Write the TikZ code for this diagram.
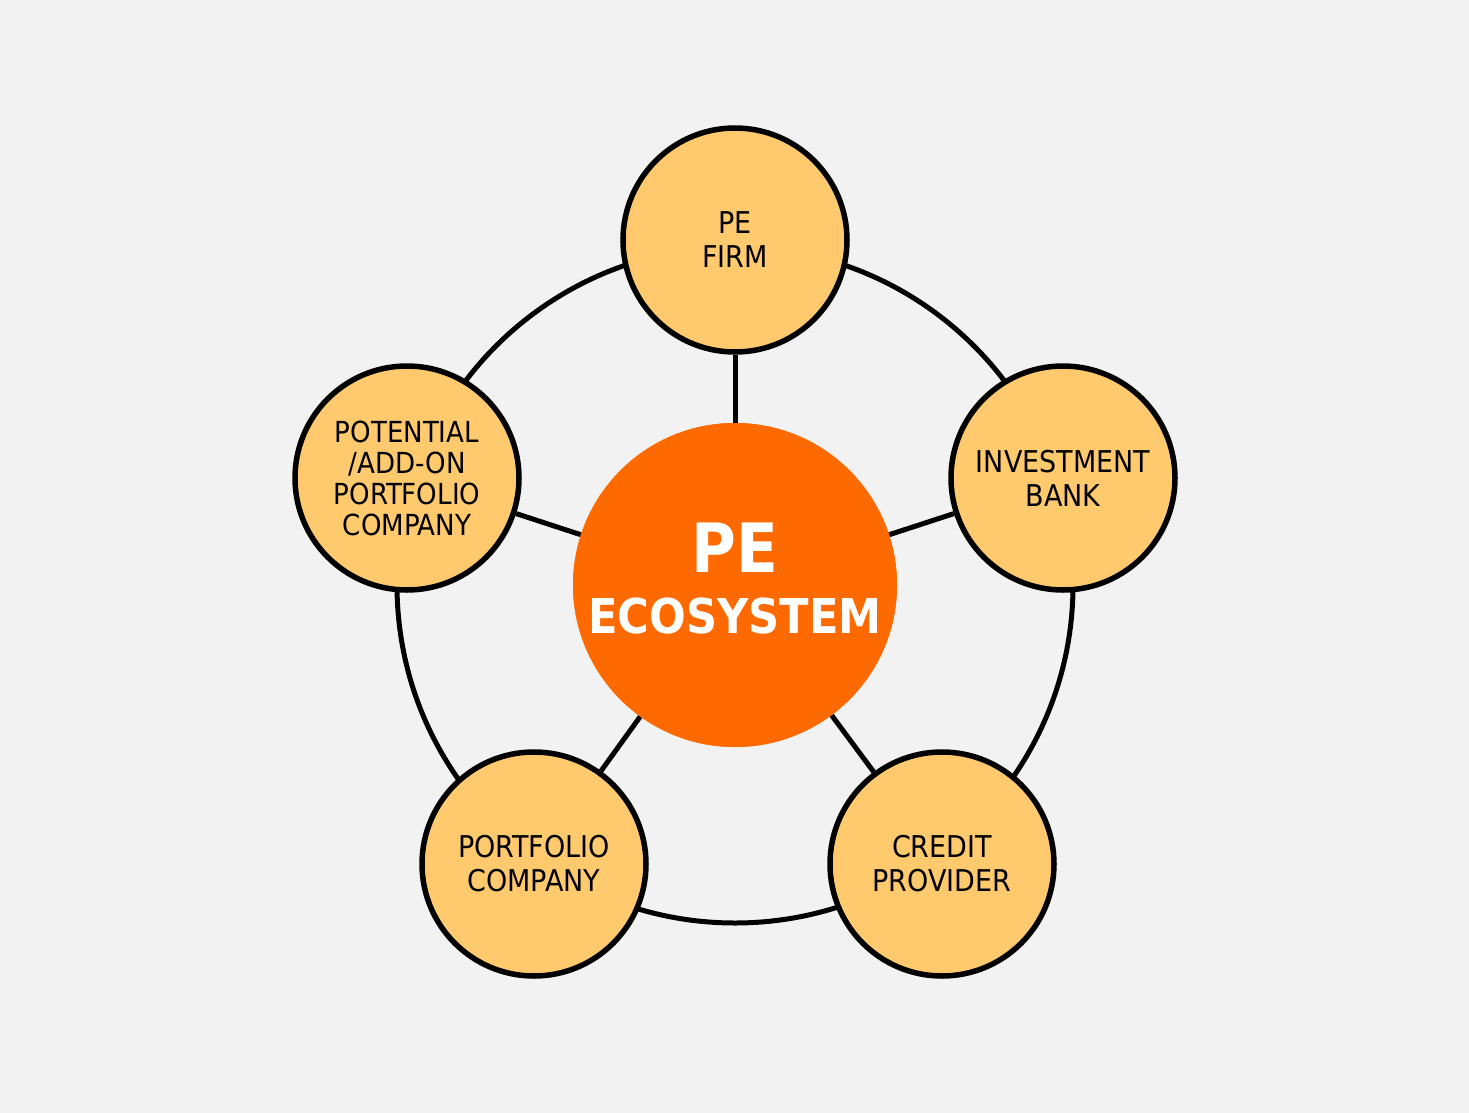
\documentclass[tikz,border=0pt]{standalone}
\usepackage{fontspec}
\setmainfont{DejaVu Sans Condensed}
\definecolor{bg}{HTML}{F2F2F2}
\definecolor{outerf}{HTML}{FFCA6E}
\definecolor{cen}{HTML}{FF6A00}
\begin{document}
\begin{tikzpicture}[x=1pt,y=-1pt,
  sat/.style={circle,draw=black,line width=5.5pt,fill=outerf,minimum size=224pt,inner sep=0pt,align=center,font=\fontsize{30}{34}\selectfont},
  link/.style={line width=5pt}]
\fill[bg] (0,0) rectangle (1469,1113);
\useasboundingbox (0,0) rectangle (1469,1113);
\coordinate (c) at (735,585);
\draw[link] (c) circle (338);
\node[sat] (pe) at (735,240) {PE\\FIRM};
\node[sat] (ib) at (1063,478) {INVESTMENT\\BANK};
\node[sat] (cp) at (942,864) {CREDIT\\PROVIDER};
\node[sat] (pc) at (534,864) {PORTFOLIO\\COMPANY};
\node[sat,font=\fontsize{29}{31}\selectfont] (pa) at (407,478) {POTENTIAL\\/ADD-ON\\PORTFOLIO\\COMPANY};
\node[circle,fill=cen,minimum size=324pt,inner sep=0pt] (ctr) at (c) {};
\foreach \n in {pe,ib,cp,pc,pa}{\draw[link] (ctr) -- (\n);}
\node[circle,fill=cen,minimum size=324pt,inner sep=0pt] at (c) {};
\node[text=white,font=\bfseries\fontsize{68}{70}\selectfont,anchor=base] (t1) at (735,572) {PE};
\node[text=white,font=\bfseries\fontsize{48}{50}\selectfont,anchor=base] (t2) at (735,633) {ECOSYSTEM};
\end{tikzpicture}
\end{document}
